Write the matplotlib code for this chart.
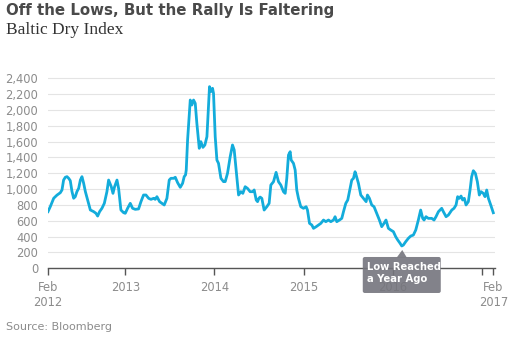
import numpy as np
import matplotlib
matplotlib.use('Agg')
import matplotlib.pyplot as plt
from matplotlib.patches import FancyBboxPatch, Polygon

# Baltic Dry Index (time as decimal years)
years = [2012.133, 2012.159, 2012.197, 2012.234, 2012.271, 2012.290, 2012.308, 2012.327, 2012.346, 2012.365,
         2012.383, 2012.402, 2012.421, 2012.439, 2012.458, 2012.477, 2012.496, 2012.514, 2012.533, 2012.552,
         2012.578, 2012.608, 2012.645, 2012.671, 2012.690, 2012.712, 2012.738, 2012.765, 2012.794, 2012.813,
         2012.843, 2012.862, 2012.880, 2012.907, 2012.925, 2012.951, 2012.981, 2013.000, 2013.026, 2013.056,
         2013.082, 2013.112, 2013.149, 2013.176, 2013.205, 2013.232, 2013.262, 2013.288, 2013.318, 2013.336,
         2013.355, 2013.385, 2013.411, 2013.437, 2013.467, 2013.493, 2013.512, 2013.542, 2013.561, 2013.587,
         2013.617, 2013.643, 2013.661, 2013.676, 2013.684, 2013.699, 2013.729, 2013.747, 2013.766, 2013.785,
         2013.803, 2013.830, 2013.848, 2013.871, 2013.893, 2013.916, 2013.945, 2013.960, 2013.979, 2013.990,
         2014.009, 2014.028, 2014.046, 2014.073, 2014.102, 2014.121, 2014.147, 2014.177, 2014.203, 2014.222,
         2014.244, 2014.271, 2014.297, 2014.319, 2014.345, 2014.371, 2014.401, 2014.431, 2014.446, 2014.469,
         2014.484, 2014.499, 2014.513, 2014.532, 2014.558, 2014.588, 2014.614, 2014.633, 2014.663, 2014.692,
         2014.719, 2014.745, 2014.775, 2014.794, 2014.812, 2014.831, 2014.850, 2014.861, 2014.887, 2014.906,
         2014.924, 2014.943, 2014.969, 2014.999, 2015.029, 2015.044, 2015.067, 2015.093, 2015.112, 2015.142,
         2015.167, 2015.194, 2015.224, 2015.250, 2015.280, 2015.306, 2015.336, 2015.354, 2015.373, 2015.403,
         2015.429, 2015.448, 2015.474, 2015.496, 2015.522, 2015.541, 2015.560, 2015.578, 2015.590, 2015.616,
         2015.642, 2015.672, 2015.702, 2015.717, 2015.739, 2015.765, 2015.791, 2015.821, 2015.851, 2015.877,
         2015.903, 2015.925, 2015.952, 2015.978, 2016.008, 2016.034, 2016.057, 2016.083, 2016.102, 2016.120,
         2016.146, 2016.176, 2016.203, 2016.232, 2016.259, 2016.288, 2016.314, 2016.337, 2016.352, 2016.374,
         2016.400, 2016.438, 2016.464, 2016.486, 2016.513, 2016.550, 2016.569, 2016.599, 2016.625, 2016.644,
         2016.663, 2016.688, 2016.711, 2016.729, 2016.748, 2016.767, 2016.785, 2016.804, 2016.823, 2016.849,
         2016.868, 2016.886, 2016.905, 2016.928, 2016.950, 2016.972, 2016.991, 2017.017, 2017.036, 2017.055,
         2017.074, 2017.100, 2017.129]
bdi = [716, 780, 885, 925, 955, 990, 1115, 1150, 1158, 1137,
       1107, 970, 885, 905, 970, 1010, 1115, 1158, 1074, 970,
       863, 737, 716, 695, 660, 716, 758, 821, 968, 1115,
       1031, 947, 1031, 1115, 1010, 737, 703, 695, 758, 821,
       758, 745, 750, 842, 926, 926, 884, 871, 884, 871,
       905, 842, 821, 800, 884, 1115, 1137, 1137, 1150, 1082,
       1023, 1074, 1158, 1180, 1242, 1620, 2126, 2063, 2126, 2084,
       1832, 1516, 1600, 1528, 1558, 1663, 2295, 2232, 2274, 2210,
       1663, 1368, 1326, 1137, 1095, 1095, 1200, 1410, 1558, 1495,
       1242, 926, 968, 947, 1031, 1010, 968, 968, 990, 863,
       842, 884, 900, 884, 736, 778, 821, 1052, 1094, 1212,
       1094, 1052, 968, 947, 1136, 1431, 1473, 1368, 1326, 1242,
       989, 884, 778, 758, 778, 736, 568, 547, 505, 526,
       547, 568, 610, 589, 610, 589, 610, 652, 589, 610,
       631, 715, 821, 863, 1010, 1115, 1136, 1220, 1178, 1073,
       926, 884, 842, 926, 884, 800, 778, 694, 610, 526,
       568, 610, 505, 484, 463, 399, 357, 316, 282, 294,
       336, 379, 408, 420, 484, 610, 736, 631, 610, 652,
       631, 631, 610, 652, 715, 758, 715, 652, 673, 705,
       736, 758, 800, 905, 884, 913, 863, 884, 800, 842,
       989, 1157, 1233, 1199, 1094, 926, 968, 947, 905, 989,
       884, 800, 702]

x_ticks = [2012.133, 2013, 2014, 2015, 2016, 2017, 2017.129]
x_labels = ['Feb\n2012', '2013', '2014', '2015', '2016', '', 'Feb\n2017']
y_ticks = list(range(0, 2401, 200))

line_color = '#13acdb'
grey_text = '#8c8c8c'

fig = plt.figure(figsize=(5.23, 3.45), dpi=100)
ax = fig.add_axes([48 / 523, 0.2223, 447 / 523, 0.5690])

ax.plot(years, bdi, color=line_color, linewidth=2.0, solid_joinstyle='round', zorder=3)

ax.set_xlim(2012.133, 2017.148)
ax.set_ylim(0, 2480)

ax.set_yticks(y_ticks)
ax.set_yticklabels(['{:,}'.format(v) for v in y_ticks])
ax.set_xticks(x_ticks)
ax.set_xticklabels(x_labels, linespacing=1.2)

ax.grid(axis='y', color='#e4e4e4', linewidth=0.8)
ax.set_axisbelow(True)
for s in ['top', 'right', 'left']:
    ax.spines[s].set_visible(False)
ax.spines['bottom'].set_color('#555555')
ax.spines['bottom'].set_linewidth(1.0)
ax.spines['bottom'].set_zorder(4)

ax.tick_params(axis='y', length=0, pad=7, labelsize=8.3, labelcolor=grey_text)
ax.tick_params(axis='x', length=5, width=1.0, color='#555555', pad=4,
               labelsize=8.3, labelcolor=grey_text)

# titles
fig.text(6 / 523, 1 - 3 / 345, 'Off the Lows, But the Rally Is Faltering', fontsize=10.8,
         fontweight='bold', color='#4a4a4a', va='top', ha='left')
fig.text(6 / 523, 1 - 22 / 345, 'Baltic Dry Index', fontsize=12.5, family='Liberation Serif',
         color='#333333', va='top', ha='left')
fig.text(6 / 523, 1 - 322 / 345, 'Source: Bloomberg', fontsize=8, color=grey_text,
         va='top', ha='left')

# callout under the low point
fig.canvas.draw()
i_low = int(np.argmin(bdi))
px, py = ax.transData.transform((years[i_low], bdi[i_low]))
box_top = py - 11
box = FancyBboxPatch((px - 39, box_top - 36), 78, 36,
                     boxstyle='round,pad=0,rounding_size=2',
                     transform=None, fc='#75757d', ec='none', alpha=0.9, zorder=10)
fig.patches.append(box)
tri = Polygon([(px - 5, box_top - 0.5), (px + 5, box_top - 0.5), (px + 0.5, py - 4)],
              closed=True, transform=None, fc='#75757d', ec='none', alpha=0.9, zorder=10)
fig.patches.append(tri)
fig.text((px - 35) / 523, (box_top - 5) / 345, 'Low Reached\na Year Ago', fontsize=7.2,
         fontweight='semibold', color='white', va='top', ha='left', linespacing=1.3, zorder=11)

fig.savefig('out.png', dpi=100)
